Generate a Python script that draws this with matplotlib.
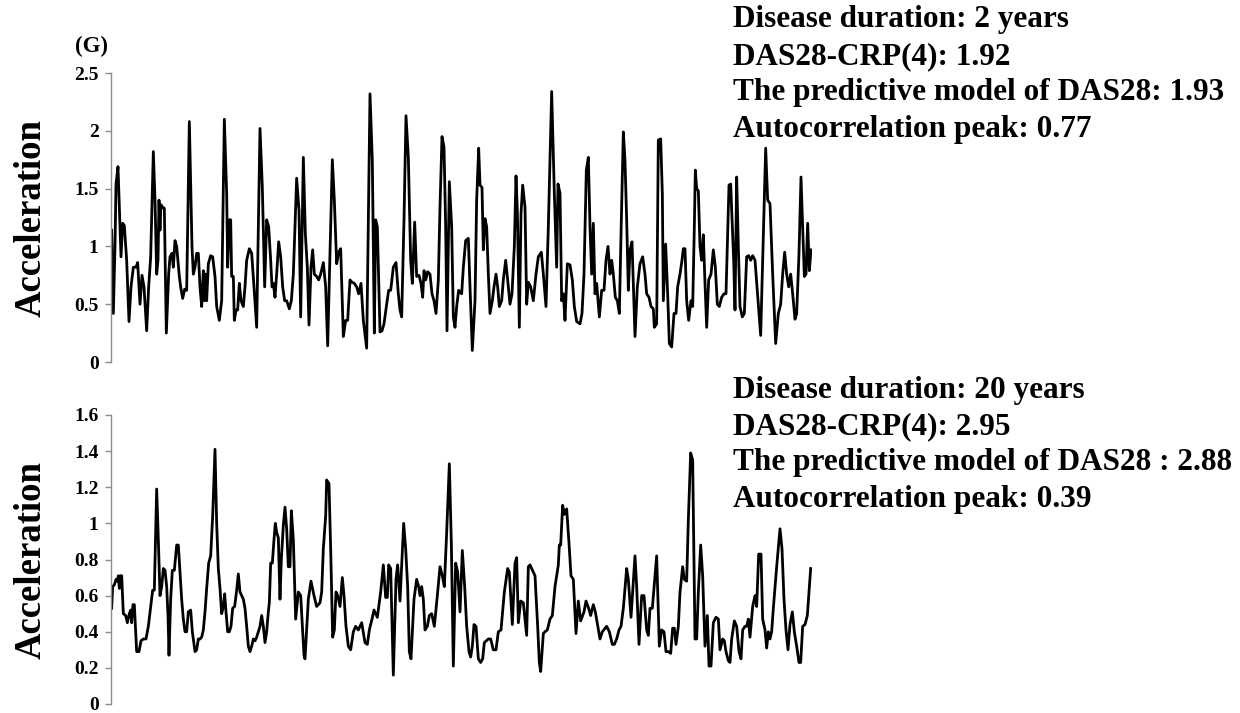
import matplotlib
matplotlib.use("Agg")
import matplotlib.pyplot as plt
import numpy as np

# ---------------- data ----------------
# time axis in arbitrary sample units (no x ticks in the original)
top_t = [2, 7, 12, 15, 21, 30, 35, 40, 47, 54,
         60, 67, 75, 80, 87, 93, 99, 107, 113, 119,
         127, 132, 137, 141, 144, 147, 150, 154, 160, 166,
         173, 177, 183, 187, 192, 197, 205, 209, 215, 221,
         227, 235, 243, 247, 252, 257, 262, 267, 272, 277,
         280, 284, 287, 292, 299, 305, 312, 317, 325, 332,
         340, 347, 350, 355, 359, 362, 367, 370, 375, 380,
         385, 390, 397, 402, 407, 415, 422, 429, 437, 447,
         454, 461, 467, 473, 479, 483, 487, 492, 497, 503,
         509, 515, 521, 527, 535, 541,
         547, 557, 564, 569, 577, 583, 589, 594, 600, 605,
         610, 617, 623, 629, 637, 644, 650, 657, 664, 670,
         677, 683, 689, 697, 704, 710, 717, 723, 730, 737,
         743, 750, 757, 767, 777, 784, 790, 794, 799, 807,
         813, 819, 827, 833, 839, 847, 855, 862, 867, 872,
         879, 885, 892, 899, 904, 911, 917, 924, 930, 935,
         939, 944, 950, 957, 963, 969, 975, 982, 987, 993,
         999, 1004, 1008, 1015, 1022, 1027, 1032, 1037, 1043,
         1052, 1057, 1064, 1072, 1077, 1084, 1092, 1097, 1103, 1107,
         1113, 1117, 1122, 1127, 1132, 1137, 1144, 1149, 1155, 1160,
         1165, 1172, 1177, 1184, 1190, 1197, 1203, 1210, 1215, 1219,
         1225, 1230, 1235, 1242, 1247, 1252, 1259, 1267, 1275, 1282,
         1291, 1297, 1305, 1312, 1322, 1330, 1337, 1341, 1347, 1352,
         1357, 1362, 1369, 1377, 1384, 1390, 1397, 1407, 1413, 1419,
         1426, 1432, 1437, 1442, 1447, 1452, 1457, 1465, 1472, 1479,
         1485, 1491, 1497, 1502, 1507, 1513, 1519, 1525, 1531, 1537,
         1542, 1547, 1552, 1557, 1563,
         1572, 1579, 1587, 1595, 1602, 1607, 1614, 1620, 1627, 1630,
         1637, 1642, 1649, 1654, 1657, 1664, 1670, 1675, 1682, 1689,
         1695, 1700, 1707, 1713, 1717, 1722, 1727, 1733, 1740, 1745,
         1750, 1753, 1757, 1762, 1767, 1772, 1777, 1781, 1787, 1793,
         1800, 1807, 1813, 1819, 1825, 1832, 1839, 1845, 1849, 1854,
         1859, 1864, 1868, 1872, 1877, 1882, 1887, 1894, 1900, 1907,
         1913, 1919, 1925, 1932, 1942, 1949, 1955, 1964, 1970, 1977,
         1985, 1994, 2002, 2009, 2015, 2021, 2027, 2033, 2039, 2045,
         2052, 2057, 2064, 2070, 2075, 2080, 2085, 2090, 2095, 2100]

top_acc = [1.14, 0.42, 1.0, 1.54, 1.69, 0.91, 1.2, 1.18, 0.88, 0.35,
           0.65, 0.82, 0.82, 0.86, 0.5, 0.75, 0.65, 0.27, 0.65, 0.91,
           1.82, 1.40, 0.76, 0.88, 1.40, 1.14, 1.36, 1.34, 1.33, 0.25,
           0.76, 0.91, 0.94, 0.82, 1.05, 1.0, 0.74, 0.65, 0.55, 0.63,
           0.62, 2.08, 1.0, 0.76, 0.82, 0.94, 0.94, 0.65, 0.48, 0.79,
           0.53, 0.76, 0.53, 0.85, 0.92, 0.91, 0.74, 0.48, 0.36, 0.53,
           2.10, 1.46, 0.82, 1.23, 1.23, 0.74, 0.74, 0.36, 0.45, 0.45,
           0.68, 0.53, 0.48, 0.65, 0.88, 0.98, 0.94, 0.65, 0.30, 2.02,
           1.51, 0.65, 1.23, 1.17, 0.88, 0.65, 0.68, 0.56, 0.76, 1.04,
           0.91, 0.65, 0.53, 0.53, 0.46, 0.53,
           0.76, 1.59, 1.31, 0.39, 1.77, 1.11, 0.82, 0.32, 0.82, 0.97,
           0.76, 0.74, 0.71, 0.76, 0.86, 0.65, 0.14, 0.94, 1.75, 1.40,
           0.85, 0.95, 0.98, 0.22, 0.36, 0.36, 0.71, 0.69, 0.68, 0.65,
           0.59, 0.68, 0.36, 0.12, 2.32, 1.74, 0.25, 1.23, 1.17, 0.26,
           0.27, 0.33, 0.50, 0.62, 0.62, 0.82, 0.86, 0.59, 0.45, 0.39,
           1.23, 2.13, 1.77, 0.88, 0.68, 1.21, 0.74, 0.75, 0.68, 0.56,
           0.79, 0.71, 0.78, 0.76, 0.59, 0.53, 0.42, 0.71, 1.34, 1.95,
           1.86, 1.17, 0.27, 1.56, 1.17, 0.39, 0.30, 0.48, 0.62,
           0.59, 0.82, 1.05, 1.07, 0.65, 0.10, 0.53, 1.40, 1.85, 1.53,
           1.51, 0.97, 1.24, 1.17, 0.76, 0.42, 0.53, 0.65, 0.76, 0.65,
           0.48, 0.53, 0.71, 0.88, 0.71, 0.50, 0.59, 1.0, 1.61, 1.31,
           0.30, 1.28, 1.53, 1.34, 0.50, 0.69, 0.65, 0.53, 0.76, 0.91,
           0.95, 0.76, 0.48, 1.17, 2.34, 1.46, 0.82, 1.54, 1.46, 0.53,
           0.59, 0.36, 0.85, 0.84, 0.71, 0.48, 0.35, 0.33, 0.42, 0.76,
           1.66, 1.77, 1.17, 0.76, 1.20, 0.59, 0.68, 0.39, 0.62, 0.62,
           0.88, 1.0, 0.76, 0.88, 0.76, 0.56, 0.53, 0.42, 1.23, 1.99,
           1.74, 1.23, 0.62, 0.97, 1.04,
           0.22, 0.65, 0.85, 0.91, 0.76, 0.59, 0.56, 0.48, 0.46, 0.30,
           0.33, 1.92, 1.93, 1.46, 0.53, 1.02, 0.59, 0.16, 0.13, 0.42,
           0.42, 0.65, 0.76, 0.88, 0.98, 0.98, 0.53, 0.36, 0.53, 0.48,
           1.17, 1.66, 1.50, 1.48, 1.0, 0.88, 1.10, 0.76, 0.30, 0.71,
           0.76, 0.97, 0.82, 0.50, 0.48, 0.56, 0.59, 0.59, 1.0, 1.53,
           1.54, 1.17, 0.88, 0.45, 1.60, 1.0, 0.48, 0.39, 0.42, 0.91,
           0.92, 0.88, 0.92, 0.88, 0.50, 0.23, 0.88, 1.85, 1.40, 1.37,
           0.76, 0.16, 0.42, 0.50, 0.76, 0.95, 0.76, 0.65, 0.76, 0.59,
           0.37, 0.42, 0.94, 1.60, 1.17, 0.74, 0.76, 1.20, 0.79, 0.97]

bottom_t = [2, 5, 10, 15, 19, 22, 25, 28, 32, 37,
            44, 49, 55, 59, 62, 66, 70, 77, 84, 90,
            97, 105, 112, 119, 125, 130, 137, 142, 147, 152,
            157, 162, 167, 171, 174, 179, 184, 190, 197, 202,
            207, 212, 217, 222, 227, 232, 239, 244, 252, 257,
            262, 267, 272, 277, 282, 287, 293, 299, 305, 312,
            317, 322, 327, 332, 337, 341, 345, 350, 355, 360,
            365, 371, 377, 382, 387, 392, 397, 402, 407, 412,
            417, 422, 427, 432, 437, 442, 447, 452, 457, 462,
            467, 472, 475, 479, 484, 489, 493, 497, 502, 507,
            511, 517, 522, 527, 532, 537, 541, 547,
            554, 562, 569, 579, 582, 592, 600, 609, 617, 627,
            632, 637, 644, 647, 654, 659, 665, 670, 675, 680,
            687, 694, 699, 705, 712, 719, 727, 734, 742, 752,
            762, 769, 775, 783, 789, 799, 809, 817, 824, 829,
            833, 839, 847, 855, 860, 867, 878, 884, 890, 895,
            900, 909, 917, 923, 927, 932, 937, 942, 949, 955,
            962, 970, 979, 987, 994, 1000, 1007, 1015, 1021, 1027,
            1034, 1040, 1047, 1054, 1061, 1067, 1074,
            1079, 1084, 1089, 1095, 1102, 1109, 1115, 1120, 1132, 1139,
            1147, 1155, 1162, 1170, 1180, 1190, 1195, 1204, 1212, 1217,
            1222, 1229, 1237, 1247, 1252, 1257, 1267, 1272, 1280, 1285,
            1289, 1297, 1302, 1309, 1317, 1324, 1332, 1337, 1342, 1345,
            1349, 1355, 1360, 1367, 1374, 1380, 1387, 1395, 1402, 1409,
            1419, 1425, 1433, 1439, 1447, 1453, 1467, 1474, 1487, 1495,
            1504, 1510, 1517, 1524, 1530, 1537, 1547, 1552, 1560, 1572,
            1577, 1584, 1592, 1599, 1607, 1612, 1617, 1624, 1637, 1645,
            1652, 1659, 1665, 1672, 1679, 1685, 1690, 1695, 1702, 1707,
            1715, 1720, 1727, 1732, 1739, 1745, 1752, 1757, 1762, 1769,
            1775, 1782, 1789, 1794, 1800, 1807, 1815, 1822, 1827, 1835,
            1840, 1845, 1852, 1857, 1862, 1870, 1877, 1884, 1890, 1895,
            1902, 1907, 1912, 1917, 1925, 1932, 1937, 1943, 1950, 1955,
            1962, 1967, 1972, 1977, 1982, 1987, 1997, 2007, 2013, 2019,
            2025, 2031, 2037, 2044, 2050, 2057, 2064, 2069, 2075, 2082,
            2089, 2099]

bottom_acc = [0.53, 0.65, 0.66, 0.69, 0.68, 0.71, 0.64, 0.71, 0.71, 0.50,
              0.49, 0.45, 0.50, 0.52, 0.45, 0.55, 0.55, 0.29, 0.29, 0.35,
              0.36, 0.36, 0.43, 0.54, 0.63, 0.63, 1.19, 0.91, 0.60, 0.65,
              0.75, 0.74, 0.65, 0.49, 0.27, 0.58, 0.74, 0.74, 0.88, 0.88,
              0.73, 0.58, 0.47, 0.40, 0.40, 0.51, 0.52, 0.40, 0.29, 0.30,
              0.36, 0.36, 0.37, 0.41, 0.51, 0.64, 0.78, 0.82, 1.04, 1.41,
              1.00, 0.75, 0.64, 0.50, 0.54, 0.61, 0.51, 0.40, 0.40, 0.43,
              0.53, 0.54, 0.63, 0.72, 0.62, 0.60, 0.58, 0.53, 0.43, 0.32,
              0.29, 0.32, 0.36, 0.35, 0.37, 0.40, 0.43, 0.49, 0.43, 0.34,
              0.40, 0.51, 0.56, 0.78, 0.78, 0.91, 1.00, 0.95, 0.92, 0.58,
              0.80, 0.99, 1.09, 0.97, 0.76, 0.76, 1.07, 0.91,
              0.47, 0.62, 0.60, 0.27, 0.25, 0.58, 0.68, 0.60, 0.54, 0.56,
              0.62, 0.86, 1.04, 1.24, 1.22, 0.86, 0.37, 0.41, 0.62, 0.60,
              0.54, 0.70, 0.60, 0.43, 0.32, 0.30, 0.40, 0.43, 0.41, 0.45,
              0.34, 0.33, 0.41, 0.47, 0.52, 0.48, 0.62, 0.77, 0.59, 0.59,
              0.77, 0.75, 0.16, 0.69, 0.77, 0.57, 1.00, 0.86, 0.65, 0.29,
              0.25, 0.58, 0.69, 0.65, 0.60, 0.65, 0.58, 0.41, 0.43, 0.49,
              0.50, 0.43, 0.60, 0.76, 0.71, 0.65, 0.95, 1.33, 0.89, 0.21,
              0.78, 0.73, 0.51, 0.85, 0.65, 0.43, 0.29,
              0.26, 0.32, 0.44, 0.43, 0.25, 0.23, 0.25, 0.34, 0.36, 0.36,
              0.30, 0.30, 0.40, 0.41, 0.62, 0.75, 0.73, 0.44, 0.78, 0.81,
              0.45, 0.57, 0.56, 0.38, 0.76, 0.77, 0.73, 0.71, 0.43, 0.23,
              0.18, 0.39, 0.40, 0.41, 0.47, 0.49, 0.65, 0.71, 0.77, 0.88,
              0.88, 1.10, 1.05, 1.08, 0.89, 0.71, 0.69, 0.39, 0.57, 0.46,
              0.51, 0.57, 0.53, 0.49, 0.55, 0.51, 0.36, 0.40, 0.43, 0.40,
              0.33, 0.33, 0.36, 0.41, 0.43, 0.53, 0.75, 0.69, 0.48, 0.82,
              0.65, 0.33, 0.60, 0.60, 0.41, 0.38, 0.53, 0.53, 0.82, 0.32,
              0.41, 0.40, 0.29, 0.29, 0.28, 0.42, 0.42, 0.33, 0.43, 0.62,
              0.76, 0.69, 0.68, 1.02, 1.39, 1.35, 0.36, 0.36, 0.62, 0.88,
              0.71, 0.32, 0.49, 0.21, 0.21, 0.45, 0.48, 0.47, 0.30, 0.36,
              0.35, 0.29, 0.24, 0.23, 0.36, 0.46, 0.43, 0.29, 0.25, 0.41,
              0.43, 0.43, 0.47, 0.37, 0.54, 0.60, 0.54, 0.83, 0.83, 0.47,
              0.41, 0.31, 0.40, 0.36, 0.40, 0.53, 0.76, 0.97, 0.86, 0.58,
              0.41, 0.30, 0.44, 0.51, 0.40, 0.32, 0.23, 0.23, 0.43, 0.44,
              0.49, 0.75]

top_yticks = [0, 0.5, 1, 1.5, 2, 2.5]
top_yticklabels = ["0", "0.5", "1", "1.5", "2", "2.5"]
bottom_yticks = [0, 0.2, 0.4, 0.6, 0.8, 1.0, 1.2, 1.4, 1.6]
bottom_yticklabels = ["0", "0.2", "0.4", "0.6", "0.8", "1", "1.2", "1.4", "1.6"]

top_info = ["Disease duration: 2 years",
            "DAS28-CRP(4): 1.92",
            "The predictive model of DAS28: 1.93",
            "Autocorrelation peak: 0.77"]
bottom_info = ["Disease duration: 20 years",
               "DAS28-CRP(4): 2.95",
               "The predictive model of DAS28 : 2.88",
               "Autocorrelation peak: 0.39"]
panel_label = "(G)"
ylabel = "Acceleration"

assert len(top_t) == len(top_acc)
assert len(bottom_t) == len(bottom_acc)

# ---------------- figure ----------------
plt.rcParams['font.family'] = ['Liberation Serif', 'DejaVu Serif']
plt.rcParams['font.weight'] = 'bold'

W, H = 1240, 713
fig = plt.figure(figsize=(W / 100, H / 100), dpi=100)


def fx(px):
    return px / W


def fy(py):
    return 1 - py / H


def make_axes(y_zero_px, y_top_px):
    ax = fig.add_axes([fx(111), fy(y_zero_px), fx(812) - fx(111),
                       fy(y_top_px) - fy(y_zero_px)])
    for s in ['top', 'right', 'bottom']:
        ax.spines[s].set_visible(False)
    ax.spines['left'].set_color('#8c8c8c')
    ax.spines['left'].set_linewidth(1.0)
    ax.tick_params(axis='y', direction='out', length=4, width=1.0,
                   color='#8c8c8c', labelsize=14, pad=5)
    ax.set_xticks([])
    ax.set_xlim(0, 2103)
    ax.patch.set_alpha(0)
    return ax


ax1 = make_axes(362, 73)
ax1.plot(top_t, top_acc, color='black', lw=2.0, solid_joinstyle='round')
ax1.set_ylim(0, 2.5)
ax1.set_yticks(top_yticks)
ax1.set_yticklabels(top_yticklabels, fontweight='bold')

ax2 = make_axes(704, 415)
ax2.plot(bottom_t, bottom_acc, color='black', lw=2.0, solid_joinstyle='round')
ax2.set_ylim(0, 1.6)
ax2.set_yticks(bottom_yticks)
ax2.set_yticklabels(bottom_yticklabels, fontweight='bold')

# y labels
fig.text(fx(31), fy(218), ylabel, rotation=90, fontsize=26.5, fontweight='bold',
         ha='center', va='center')
fig.text(fx(31), fy(560), ylabel, rotation=90, fontsize=26.5, fontweight='bold',
         ha='center', va='center')

# panel label
fig.text(fx(75), fy(52), panel_label, fontsize=16.5, fontweight='bold',
         ha='left', va='baseline')

# annotation blocks
top_baselines = [27, 64, 100, 137]
bottom_baselines = [398, 434, 470, 507]
for txt, b in zip(top_info, top_baselines):
    fig.text(fx(733), fy(b), txt, fontsize=22.5, fontweight='bold',
             ha='left', va='baseline')
for txt, b in zip(bottom_info, bottom_baselines):
    fig.text(fx(733), fy(b), txt, fontsize=22.5, fontweight='bold',
             ha='left', va='baseline')

fig.savefig("out.png", dpi=100)
